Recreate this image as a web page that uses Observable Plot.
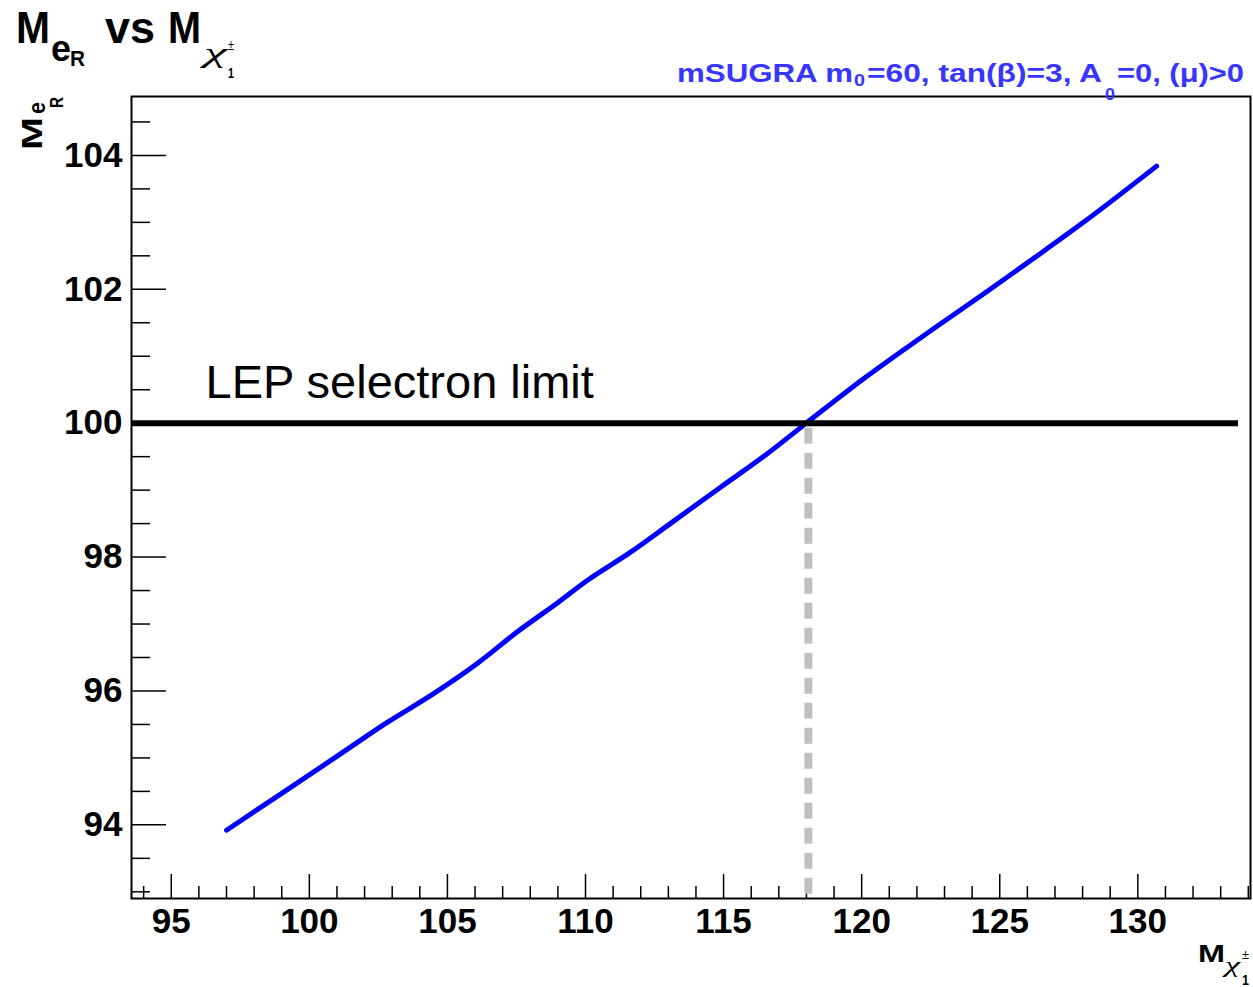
<!DOCTYPE html>
<html><head><meta charset="utf-8">
<script src="https://cdn.jsdelivr.net/npm/d3@7"></script>
<script src="https://cdn.jsdelivr.net/npm/@observablehq/plot@0.6"></script>
<style>
body{margin:0;background:#fff;}
#wrap{position:relative;width:1253px;height:987px;}
</style></head><body><div id="wrap"></div>
<script>
// ---- data ----
const charginoMass = [97.00, 98.96, 101.13, 102.82, 104.50, 106.08, 107.52, 109.03, 110.06, 111.62, 113.07, 114.88, 116.57, 117.96, 120.19, 122.60, 124.41, 126.22, 128.03, 130.68];
const selectronMass = [93.92, 94.46, 95.06, 95.53, 95.96, 96.41, 96.88, 97.33, 97.65, 98.07, 98.50, 99.04, 99.54, 99.99, 100.70, 101.41, 101.93, 102.46, 103.00, 103.84];
const lepLimit = [100];
const lepLabel = ["LEP selectron limit"];
const crossingMass = [118.07];
const xMajorTicks = [95, 100, 105, 110, 115, 120, 125, 130];
const xMinorTicks = [94, 96, 97, 98, 99, 101, 102, 103, 104, 106, 107, 108, 109, 111, 112, 113, 114, 116, 117, 118, 119, 121, 122, 123, 124, 126, 127, 128, 129, 131, 132, 133, 134];
const yMajorTicks = [94, 96, 98, 100, 102, 104];
const yMinorTicks = [93, 93.5, 94.5, 95, 95.5, 96.5, 97, 97.5, 98.5, 99, 99.5, 100.5, 101, 101.5, 102.5, 103, 103.5, 104.5];
const xDomain = [93.56, 134.08];
const yDomain = [92.9, 104.88];

const points = charginoMass.map((x, i) => ({x, y: selectronMass[i]}));

// ---- layout ----
const W = 1253, H = 987;
const mL = 131, mR = 3, mT = 96, mB = 89;
const innerW = W - mL - mR, innerH = H - mT - mB;
const FONT = "'Liberation Sans', Arial, Helvetica, sans-serif";
const GREEK = "'Liberation Serif', 'DejaVu Serif', serif";

const chart = Plot.plot({
  width: W, height: H,
  marginLeft: mL, marginRight: mR, marginTop: mT, marginBottom: mB,
  style: {fontFamily: FONT, background: "#fff", color: "#000"},
  x: {domain: xDomain, label: null},
  y: {domain: yDomain, label: null},
  marks: [
    Plot.ruleY(yMinorTicks, {y: d => d, stroke: "#000", strokeWidth: 1.5, insetRight: innerW - 19}),
    Plot.ruleY(yMajorTicks, {y: d => d, stroke: "#000", strokeWidth: 1.5, insetRight: innerW - 35}),
    Plot.ruleX(xMinorTicks, {x: d => d, stroke: "#000", strokeWidth: 1.5, insetTop: innerH - 12}),
    Plot.ruleX(xMajorTicks, {x: d => d, stroke: "#000", strokeWidth: 1.5, insetTop: innerH - 24}),
    Plot.axisX(xMajorTicks, {tickSize: 0, tickPadding: 10, fontSize: 35, fontWeight: "bold", label: null, tickFormat: d3.format("d")}),
    Plot.axisY(yMajorTicks, {tickSize: 0, tickPadding: 9, fontSize: 35, fontWeight: "bold", label: null, tickFormat: d3.format("d")}),
    Plot.ruleX(crossingMass, {x: d => d, y1: lepLimit[0], y2: yDomain[0], stroke: "#c0c0c0", strokeWidth: 8, strokeDasharray: "16,9", strokeDashoffset: -5}),
    Plot.line(points, {x: "x", y: "y", stroke: "#0000ff", strokeWidth: 5, curve: "monotone-x"}),
    Plot.ruleY(lepLimit, {y: d => d, stroke: "#000", strokeWidth: 6, insetRight: 12}),
    Plot.text(lepLabel, {x: 96.24, y: lepLimit[0], text: d => d, dy: -25, textAnchor: "start", lineAnchor: "bottom", fontSize: 47, fill: "#000", fontWeight: "normal"}),
    Plot.frame({stroke: "#000", strokeWidth: 2})
  ]
});
document.getElementById("wrap").appendChild(chart);

// ---- titles and axis labels (real text, with sub/superscripts) ----
const svg = d3.select(chart);
const g = svg.append("g").attr("font-family", FONT).attr("fill", "#000").attr("text-anchor", "start");
function piece(parent, str, x, y, size, opts = {}) {
  const t = parent.append("text").attr("x", x).attr("y", y).attr("text-anchor", "start")
    .attr("font-size", size).attr("font-weight", opts.weight || "bold").text(str);
  if (opts.width) t.attr("textLength", opts.width).attr("lengthAdjust", "spacingAndGlyphs");
  if (opts.fill) t.attr("fill", opts.fill);
  if (opts.family) t.attr("font-family", opts.family);
  if (opts.italic) t.attr("font-style", "italic");
  return t;
}
// title: M_{e_R} vs M_{chi^pm_1}
piece(g, "M", 16, 43, 44, {width: 34});
piece(g, "e", 51, 61, 36, {width: 20});
piece(g, "R", 70, 66, 22, {width: 15});
piece(g, "vs", 105, 43, 44, {width: 50});
piece(g, "M", 168, 43, 44, {width: 33});
piece(g, "\u03c7", 204, 62, 28, {width: 23, weight: "normal", family: GREEK, italic: true});
piece(g, "\u00b1", 228, 50, 14, {width: 6, weight: "normal"});
piece(g, "1", 228, 78, 15, {width: 6});

// subtitle
const blue = "#3636ff";
piece(g, "mSUGRA m", 677, 82, 26, {width: 176, fill: blue});
piece(g, "0", 854, 86, 17, {width: 11, fill: blue});
piece(g, "=60, tan(\u03b2)=3, A", 867, 82, 26, {width: 235, fill: blue});
piece(g, "0", 1105, 100, 17, {width: 10, fill: blue});
piece(g, "=0, (\u03bc)>0", 1117, 82, 26, {width: 127, fill: blue});

// y label (rotated)
const gy = g.append("g").attr("transform", "rotate(-90)");
piece(gy, "M", -150, 42, 30, {width: 33});
piece(gy, "e", -114, 45, 24, {width: 12});
piece(gy, "R", -108, 63, 18, {width: 11});

// x label
piece(g, "M", 1198, 962, 24, {width: 27});
piece(g, "\u03c7", 1225, 972, 22, {width: 15, weight: "normal", family: GREEK, italic: true});
piece(g, "\u00b1", 1242, 959, 12, {width: 7, weight: "normal"});
piece(g, "1", 1242, 985, 14, {width: 7});
</script>
</body></html>
